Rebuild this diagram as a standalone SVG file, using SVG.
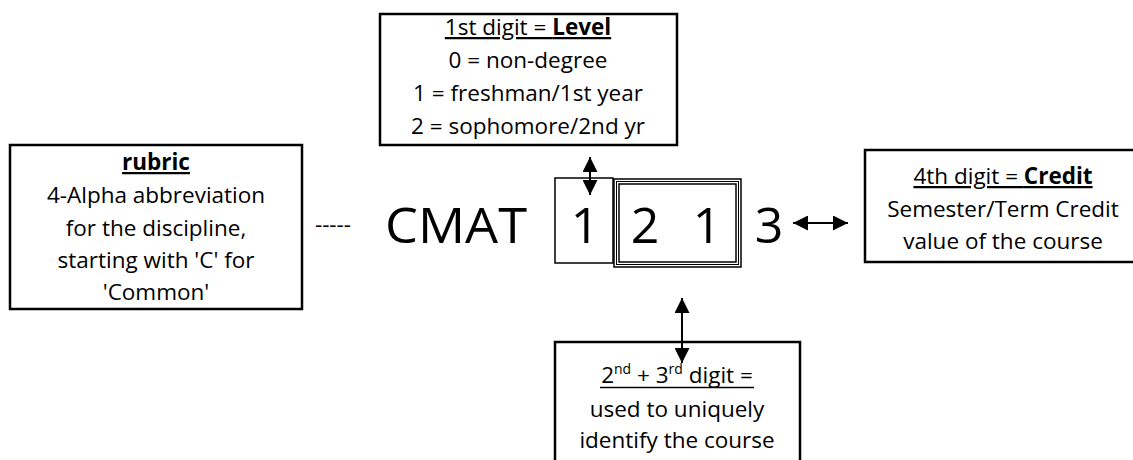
<svg xmlns="http://www.w3.org/2000/svg" width="1133" height="460" viewBox="0 0 1133 460">
<style>
.box{fill:#fff;stroke:#000;stroke-width:2.5}
.t{font-family:"Open Sans","Noto Sans",sans-serif;font-size:22.5px;fill:#000;text-anchor:middle}
.big{font-family:"Open Sans","Noto Sans",sans-serif;font-size:50px;fill:#000;text-anchor:middle}
.u{text-decoration:underline}
.b{font-weight:bold}
.ln{stroke:#000;stroke-width:2;fill:none}
.thin{fill:none;stroke:#000;stroke-width:1.5}
</style>
<defs>
<marker id="ah" viewBox="0 0 10 10" refX="10" refY="5" markerWidth="15" markerHeight="15" markerUnits="userSpaceOnUse" orient="auto-start-reverse">
<path d="M0,0 L10,5 L0,10 Z" fill="#000"/>
</marker>
</defs>
<rect width="1133" height="460" fill="#fff"/>
<g id="rubric">
<rect class="box" x="10" y="145" width="292" height="164"/>
<text class="t" x="156" y="170"><tspan class="u b">rubric</tspan></text>
<text class="t" x="156" y="203">4-Alpha abbreviation</text>
<text class="t" x="156" y="236">for the discipline,</text>
<text class="t" x="156" y="268">starting with 'C' for</text>
<text class="t" x="156" y="300">'Common'</text>
</g>
<g id="level">
<rect class="box" x="380" y="14" width="297" height="131"/>
<text class="t u" x="528" y="35">1st digit = <tspan class="b">Level</tspan></text>
<text class="t" x="528" y="68">0 = non-degree</text>
<text class="t" x="528" y="101">1 = freshman/1st year</text>
<text class="t" x="528" y="134">2 = sophomore/2nd yr</text>
</g>
<g id="credit">
<rect class="box" x="865" y="150" width="276" height="112"/>
<text class="t u" x="1003" y="184">4th digit = <tspan class="b">Credit</tspan></text>
<text class="t" x="1003" y="217">Semester/Term Credit</text>
<text class="t" x="1003" y="249">value of the course</text>
</g>
<g id="unique">
<rect class="box" x="555" y="342" width="245" height="130"/>
<text class="t" x="677" y="383">2<tspan font-size="14" dy="-9">nd</tspan><tspan dy="9"> + 3</tspan><tspan font-size="14" dy="-9">rd</tspan><tspan dy="9"> digit =</tspan></text>
<line x1="600" y1="387.5" x2="754" y2="387.5" stroke="#000" stroke-width="1.6"/>
<text class="t" x="677" y="417">used to uniquely</text>
<text class="t" x="677" y="448">identify the course</text>
</g>
<g id="code">
<text class="big" x="456" y="243" textLength="142" lengthAdjust="spacingAndGlyphs">CMAT</text>
<rect class="thin" x="555" y="178" width="58" height="85"/>
<rect class="thin" x="614" y="179" width="127" height="88"/>
<rect fill="none" stroke="#000" stroke-width="1" x="616.5" y="181.5" width="122" height="83"/>
<rect class="thin" x="619" y="184" width="117" height="78"/>
<text class="big" x="585" y="243">1</text>
<text class="big" x="645" y="243">2</text>
<text class="big" x="707" y="243">1</text>
<text class="big" x="769" y="243">3</text>
</g>
<g id="connectors">
<text class="t" x="333" y="232">-----</text>
<line class="ln" x1="590" y1="157" x2="590" y2="195" marker-start="url(#ah)" marker-end="url(#ah)"/>
<line class="ln" x1="682" y1="298" x2="682" y2="363" marker-start="url(#ah)" marker-end="url(#ah)"/>
<line class="ln" x1="793" y1="223" x2="848" y2="223" marker-start="url(#ah)" marker-end="url(#ah)"/>
</g>
</svg>
